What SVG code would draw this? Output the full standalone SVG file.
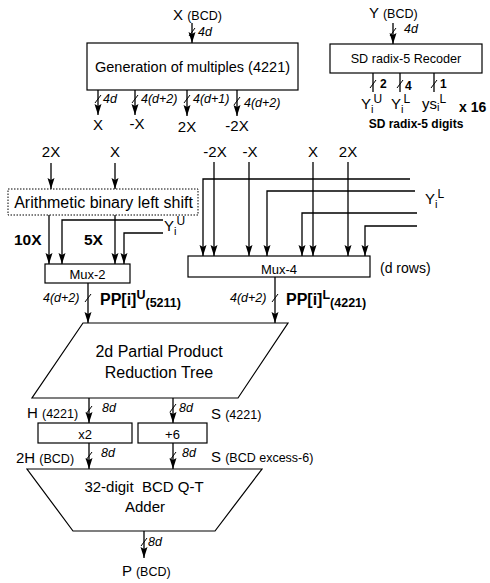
<svg xmlns="http://www.w3.org/2000/svg" width="490" height="583" viewBox="0 0 490 583">
<style>
text{font-family:"Liberation Sans",Arial,sans-serif;fill:#000}
.lb{font-size:15px}
.sm{font-size:12.5px}
.it{font-size:12.5px;font-style:italic}
.bd{font-weight:bold}
.box{fill:#fff;stroke:#000;stroke-width:1.2}
.w{stroke:#000;stroke-width:1.3;fill:none}
.a{stroke:#000;stroke-width:1.3;fill:none;marker-end:url(#ah)}
.tk{stroke:#000;stroke-width:1;fill:none}
</style>
<defs>
<marker id="ah" markerUnits="userSpaceOnUse" markerWidth="12" markerHeight="8" refX="11" refY="4" orient="auto">
<path d="M0,0.5 L11,4 L0,7.5 L2,4 z" fill="#000"/>
</marker>
</defs>
<rect width="490" height="583" fill="#fff"/>

<g id="connectors">
<line class="a" x1="192" y1="23" x2="192" y2="43"/>
<line class="a" x1="98" y1="90" x2="98" y2="115"/>
<line class="a" x1="135" y1="90" x2="135" y2="115"/>
<line class="a" x1="187" y1="90" x2="187" y2="116"/>
<line class="a" x1="237" y1="90" x2="237" y2="116"/>
<line class="a" x1="393" y1="23" x2="393" y2="44"/>
<line class="w" x1="373" y1="73" x2="373" y2="92"/>
<line class="w" x1="400" y1="73" x2="400" y2="92"/>
<line class="w" x1="434" y1="73" x2="434" y2="92"/>
<line class="a" x1="51" y1="163" x2="51" y2="189"/>
<line class="a" x1="115" y1="163" x2="115" y2="189"/>
<line class="a" x1="49" y1="215" x2="49" y2="264"/>
<line class="a" x1="115" y1="215" x2="115" y2="264"/>
<polyline class="a" points="163,220 62,220 62,264"/>
<polyline class="a" points="163,233 124,233 124,264"/>
<line class="a" x1="88" y1="283" x2="88" y2="323"/>
<line class="a" x1="214" y1="162" x2="214" y2="256"/>
<line class="a" x1="249" y1="162" x2="249" y2="256"/>
<line class="a" x1="313" y1="162" x2="313" y2="256"/>
<line class="a" x1="348" y1="162" x2="348" y2="256"/>
<polyline class="a" points="410,179 203,179 203,256"/>
<polyline class="a" points="415,191 267,191 267,256"/>
<polyline class="a" points="417,213 302,213 302,256"/>
<polyline class="a" points="417,226 365,226 365,256"/>
<line class="a" x1="275" y1="277" x2="275" y2="323"/>
<line class="a" x1="89" y1="398" x2="89" y2="423"/>
<line class="a" x1="173" y1="398" x2="173" y2="423"/>
<line class="a" x1="89" y1="443" x2="89" y2="469"/>
<line class="a" x1="173" y1="443" x2="173" y2="469"/>
<line class="a" x1="144" y1="531" x2="144" y2="558"/>
<g class="tk">
<line x1="189" y1="36" x2="195" y2="28"/>
<line x1="95" y1="103" x2="101" y2="95"/>
<line x1="132" y1="103" x2="138" y2="95"/>
<line x1="184" y1="103" x2="190" y2="95"/>
<line x1="234" y1="105" x2="240" y2="97"/>
<line x1="390" y1="36" x2="396" y2="28"/>
<line x1="370" y1="88" x2="376" y2="80"/>
<line x1="397" y1="88" x2="403" y2="80"/>
<line x1="431" y1="88" x2="437" y2="80"/>
<line x1="85" y1="302" x2="91" y2="294"/>
<line x1="272" y1="302" x2="278" y2="294"/>
<line x1="86" y1="414" x2="92" y2="406"/>
<line x1="170" y1="412" x2="176" y2="404"/>
<line x1="86" y1="460" x2="92" y2="452"/>
<line x1="170" y1="460" x2="176" y2="452"/>
<line x1="141" y1="546" x2="147" y2="538"/>
</g>
</g>

<g id="x-input">
<text class="lb" x="173" y="20">X <tspan class="sm">(BCD)</tspan></text>
<text class="it" x="198" y="36">4d</text>
</g>

<g id="gen-multiples">
<rect class="box" x="87" y="43" width="211" height="47"/>
<text x="192.5" y="72" font-size="14.5" text-anchor="middle">Generation of multiples (4221)</text>
<text class="it" x="103" y="103">4d</text>
<text class="it" x="141" y="103">4(d+2)</text>
<text class="it" x="193" y="103">4(d+1)</text>
<text class="it" x="244" y="107">4(d+2)</text>
<text class="lb" x="98" y="130" text-anchor="middle">X</text>
<text class="lb" x="137" y="129" text-anchor="middle">-X</text>
<text class="lb" x="187" y="132" text-anchor="middle">2X</text>
<text class="lb" x="237" y="131" text-anchor="middle">-2X</text>
</g>

<g id="y-input">
<text class="lb" x="369" y="18">Y <tspan class="sm">(BCD)</tspan></text>
<text class="it" x="404" y="33">4d</text>
</g>

<g id="recoder">
<rect class="box" x="330" y="44" width="152" height="29"/>
<text x="406" y="63" font-size="12.6" text-anchor="middle">SD radix-5 Recoder</text>
<text class="bd" font-size="12" x="380" y="88">2</text>
<text class="bd" font-size="12" x="405" y="90">4</text>
<text class="bd" font-size="12" x="440" y="88">1</text>
<text class="lb" x="361" y="109">Y<tspan font-size="11" dy="4">i</tspan><tspan font-size="12" dy="-10">U</tspan></text>
<text class="lb" x="391" y="109">Y<tspan font-size="11" dy="4">i</tspan><tspan font-size="12" dy="-10">L</tspan></text>
<text class="lb" x="422" y="109">ys<tspan font-size="11" dy="2">i</tspan><tspan font-size="12" dy="-8">L</tspan></text>
<text class="bd" x="459" y="112" font-size="14">x 16</text>
<text class="bd" font-size="12" x="416" y="128" text-anchor="middle">SD radix-5 digits</text>
</g>

<g id="row2-labels">
<text class="lb" x="51" y="157" text-anchor="middle">2X</text>
<text class="lb" x="115" y="157" text-anchor="middle">X</text>
<text class="lb" x="215" y="157" text-anchor="middle">-2X</text>
<text class="lb" x="250" y="157" text-anchor="middle">-X</text>
<text class="lb" x="313" y="157" text-anchor="middle">X</text>
<text class="lb" x="348" y="157" text-anchor="middle">2X</text>
</g>

<g id="shift">
<rect x="8" y="189" width="190" height="26" fill="#fff" stroke="#000" stroke-width="1" stroke-dasharray="1.5,1.5"/>
<text x="103.5" y="208" font-size="16" text-anchor="middle">Arithmetic binary left shift</text>
<text class="bd" font-size="15.5" x="14" y="245">10X</text>
<text class="bd" font-size="15.5" x="84" y="245">5X</text>
<text class="lb" x="164" y="231">Y<tspan font-size="11" dy="4">i</tspan><tspan font-size="12" dy="-10">U</tspan></text>
</g>

<g id="mux2">
<rect class="box" x="45" y="264" width="85" height="19"/>
<text x="87.5" y="279" font-size="13" text-anchor="middle">Mux-2</text>
<text class="it" x="43" y="302">4(d+2)</text>
<text class="bd" font-size="16" x="100" y="305">PP[i]<tspan font-size="12.5" dy="-6">U</tspan><tspan font-size="12.5" dy="8">(5211)</tspan></text>
</g>

<g id="mux4">
<rect class="box" x="188" y="256" width="182" height="21"/>
<text x="279" y="274" font-size="13" text-anchor="middle">Mux-4</text>
<text x="380" y="273" font-size="14">(d rows)</text>
<text class="lb" x="425" y="204">Y<tspan font-size="11" dy="4">i</tspan><tspan font-size="12" dy="-10">L</tspan></text>
<text class="it" x="230" y="302">4(d+2)</text>
<text class="bd" font-size="16" x="286" y="305">PP[i]<tspan font-size="12.5" dy="-6">L</tspan><tspan font-size="12.5" dy="8">(4221)</tspan></text>
</g>

<g id="tree">
<polygon class="box" points="83,323 288,323 238,398 32,398"/>
<text x="159" y="357" font-size="16" text-anchor="middle">2d Partial Product</text>
<text x="159" y="378" font-size="16" text-anchor="middle">Reduction Tree</text>
<text class="lb" x="27" y="418">H <tspan class="sm">(4221)</tspan></text>
<text class="it" x="102" y="412">8d</text>
<text class="it" x="179" y="412">8d</text>
<text class="lb" x="211" y="419">S <tspan class="sm">(4221)</tspan></text>
</g>

<g id="x2">
<rect class="box" x="38" y="423" width="94" height="20"/>
<text x="85" y="439" font-size="13" text-anchor="middle">x2</text>
</g>
<g id="plus6">
<rect class="box" x="138" y="423" width="69" height="20"/>
<text x="172.5" y="439" font-size="13" text-anchor="middle">+6</text>
</g>

<g id="adder">
<text class="lb" x="16" y="463">2H <tspan class="sm">(BCD)</tspan></text>
<text class="it" x="101" y="457">8d</text>
<text class="it" x="182" y="457">8d</text>
<text class="lb" x="211" y="462">S <tspan class="sm">(BCD excess-6)</tspan></text>
<polygon class="box" points="27,469 262,469 215,531 73,531"/>
<text x="144" y="492" font-size="15" text-anchor="middle" xml:space="preserve">32-digit  BCD Q-T</text>
<text x="145" y="512" font-size="15" text-anchor="middle">Adder</text>
<text class="it" x="148" y="546">8d</text>
<text class="lb" x="122" y="576">P <tspan class="sm">(BCD)</tspan></text>
</g>
</svg>
